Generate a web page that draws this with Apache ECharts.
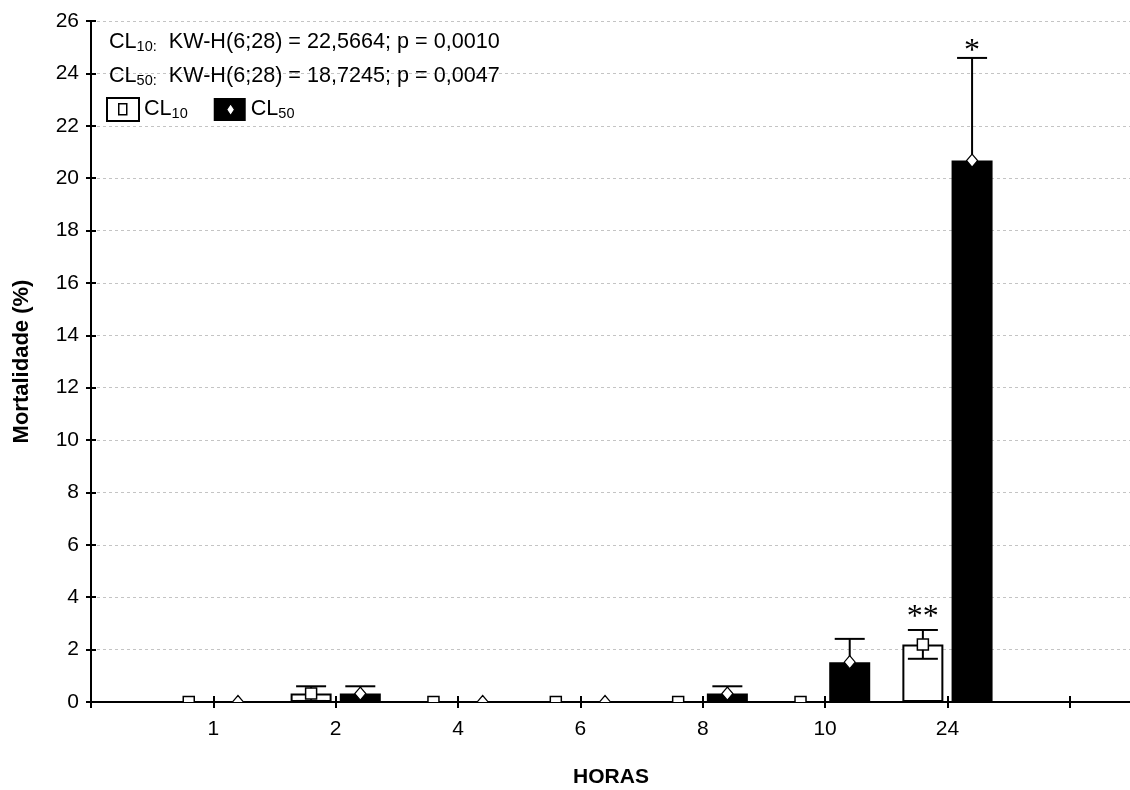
<!DOCTYPE html>
<html><head><meta charset="utf-8">
<script src="https://cdn.jsdelivr.net/npm/echarts@6/dist/echarts.min.js"></script>
<style>html,body{margin:0;padding:0;background:#fff}#c{width:1130px;height:790px}</style>
</head><body><div id="c"></div>
<script>
// ---- data ----
const hours    = ['1', '2', '4', '6', '8', '10', '24'];
const cl10Mean = [0, 0.32, 0, 0, 0, 0, 2.2];
const cl10Err  = [0, 0.28, 0, 0, 0, 0, 0.55];
const cl50Mean = [0, 0.32, 0, 0, 0.32, 1.52, 20.67];
const cl50Err  = [0, 0.28, 0, 0, 0.28, 0.89, 3.92];
const cl10Sig  = ['', '', '', '', '', '', '**'];
const cl50Sig  = ['', '', '', '', '', '', '*'];
const statLine10 = '  KW-H(6;28) = 22,5664; p = 0,0010';
const statLine50 = '  KW-H(6;28) = 18,7245; p = 0,0047';

const FONT = '"Liberation Sans", Arial, sans-serif';
const BAR_W = 41, BAR_GAP = '20%';
const OFF = 24.6;
const rich = {
  n: {fontFamily: FONT, fontSize: 21.6, fontWeight: 'normal', color: '#000', lineHeight: 24},
  s: {fontFamily: FONT, fontSize: 14.5, fontWeight: 'normal', color: '#000', lineHeight: 6, verticalAlign: 'bottom'}
};

function pts(arr) { return arr.map((v, i) => [i + 1, v]); }

// error bars, mean markers and significance marks, drawn through the axes' scales
function errSeries(name, means, errs, sig, dx, sigGap, marker) {
  return {
    type: 'custom', name: name + '_err', z: 3, silent: true, clip: true,
    data: means.map((m, i) => [i + 1, m, errs[i], i]),
    renderItem(params, api) {
      const x = api.value(0), m = api.value(1), e = api.value(2), i = api.value(3);
      const mid = api.coord([x, m]);
      const hi = api.coord([x, m + e]);
      const lo = api.coord([x, Math.max(m - e, 0)]);
      const cx = mid[0] + dx, cap = 15;
      const ch = [];
      const st = {stroke: '#000', lineWidth: 2};
      if (e > 0) {
        ch.push({type: 'line', shape: {x1: cx, y1: hi[1], x2: cx, y2: lo[1]}, style: st});
        ch.push({type: 'line', shape: {x1: cx - cap, y1: hi[1], x2: cx + cap, y2: hi[1]}, style: st});
        ch.push({type: 'line', shape: {x1: cx - cap, y1: lo[1], x2: cx + cap, y2: lo[1]}, style: st});
      }
      if (marker === 'rect') {
        ch.push({type: 'rect', shape: {x: cx - 5.5, y: mid[1] - 5.5, width: 11, height: 11},
          style: {fill: '#fff', stroke: '#000', lineWidth: 1.5}});
      } else {
        ch.push({type: 'polygon', shape: {points: [[cx, mid[1] - 6.5], [cx + 5.5, mid[1]], [cx, mid[1] + 6.5], [cx - 5.5, mid[1]]]},
          style: {fill: '#fff', stroke: '#000', lineWidth: 1.2}});
      }
      if (sig[i]) {
        ch.push({type: 'text', style: {text: sig[i], x: cx, y: hi[1] - sigGap, align: 'center',
          verticalAlign: 'bottom', font: '32px "Liberation Serif", serif', fill: '#000'}});
      }
      return {type: 'group', children: ch};
    }
  };
}

const chart = echarts.init(document.getElementById('c'), null, {renderer: 'canvas'});
const xCommon = {type: 'value', min: 0, max: 8.5, interval: 1, splitLine: {show: false},
  axisLine: {lineStyle: {color: '#000', width: 2}},
  axisTick: {inside: true, length: 6, lineStyle: {color: '#000', width: 2}}};
const yCommon = {type: 'value', min: 0, max: 26, interval: 2,
  axisLine: {show: true, lineStyle: {color: '#000', width: 2}},
  axisTick: {show: true, inside: true, length: 5, lineStyle: {color: '#000', width: 2}}};

chart.setOption({
  animation: false,
  backgroundColor: '#fff',
  title: [
    {left: 109, top: 30, padding: 0, text: '{n|CL}{s|10:}{n|' + statLine10 + '}', textStyle: {rich}},
    {left: 109, top: 64.5, padding: 0, text: '{n|CL}{s|50:}{n|' + statLine50 + '}', textStyle: {rich}}
  ],
  legend: {
    left: 106, top: 97, padding: 0, icon: 'rect', itemWidth: 32, itemHeight: 23, itemGap: 26,
    data: ['CL10', 'CL50'],
    formatter: n => '{n|CL}{s|' + n.slice(2) + '}',
    textStyle: {rich}
  },
  grid: {left: 91, top: 21, width: 1040, height: 681, outerBoundsMode: 'none', containLabel: false},
  xAxis: [
    Object.assign({}, xCommon, {position: 'bottom',
      axisLabel: {formatter: v => hours[v - 1] || '', fontSize: 21, fontFamily: FONT, color: '#000', margin: 17},
      name: 'HORAS', nameLocation: 'middle', nameGap: 65,
      nameTextStyle: {fontSize: 21, fontWeight: 'bold', fontFamily: FONT, color: '#000'}}),
    Object.assign({}, xCommon, {position: 'top', axisLabel: {show: false}})
  ],
  yAxis: [
    Object.assign({}, yCommon, {position: 'left',
      axisLabel: {fontSize: 21, fontFamily: FONT, color: '#000', margin: 12},
      splitLine: {show: true, lineStyle: {color: '#c4c4c4', width: 1, type: [3, 3]}},
      name: 'Mortalidade (%)', nameLocation: 'middle', nameGap: 58,
      nameTextStyle: {fontSize: 22, fontWeight: 'bold', fontFamily: FONT, color: '#000'}}),
    Object.assign({}, yCommon, {position: 'right', axisLabel: {show: false}, splitLine: {show: false}})
  ],
  graphic: [
    {type: 'rect', left: 118, top: 103, shape: {width: 8, height: 11}, style: {fill: '#fff', stroke: '#000', lineWidth: 1.5}, z: 100},
    {type: 'polygon', left: 226, top: 103, shape: {points: [[4, 0], [8, 6], [4, 12], [0, 6]]}, style: {fill: '#fff', stroke: '#000', lineWidth: 1.2}, z: 100}
  ],
  series: [
    {name: 'CL10', type: 'bar', barWidth: BAR_W, barGap: BAR_GAP, z: 2, data: pts(cl10Mean),
     itemStyle: {color: '#fff', borderColor: '#000', borderWidth: 2}},
    {name: 'CL50', type: 'bar', barWidth: BAR_W, barGap: BAR_GAP, z: 2, data: pts(cl50Mean),
     itemStyle: {color: '#000', borderColor: '#000', borderWidth: 0}},
    errSeries('CL10', cl10Mean, cl10Err, cl10Sig, -OFF, -4, 'rect'),
    errSeries('CL50', cl50Mean, cl50Err, cl50Sig, OFF, -10, 'diamond')
  ]
});
</script></body></html>
